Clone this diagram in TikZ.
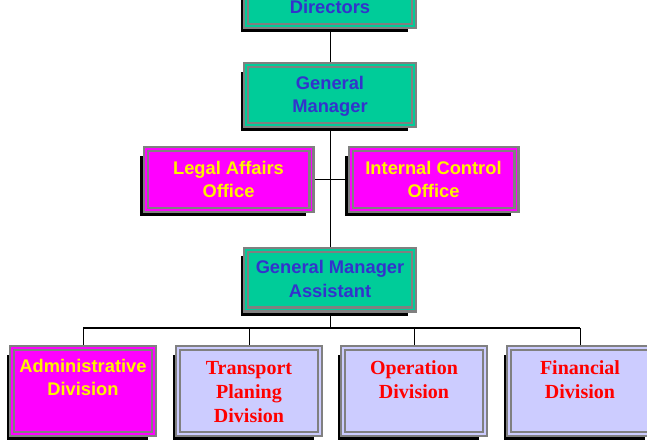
\documentclass[tikz,border=0pt]{standalone}
\usepackage{fontspec}
\setmainfont{Liberation Serif}
\newfontfamily\arialfont{Liberation Sans}
\usetikzlibrary{shadows,backgrounds}

\definecolor{gmgreen}{HTML}{00CC99}
\definecolor{txtblue}{HTML}{3333CC}
\definecolor{offmag}{HTML}{FF00FF}
\definecolor{divlav}{HTML}{CCCCFF}
\definecolor{framegray}{HTML}{808080}

\begin{document}
\begin{tikzpicture}[x=1pt, y=-1pt, semithick,
    box/.style={draw=framegray, line width=2.3pt, double distance=1.7pt,
        outer sep=0pt, inner sep=0pt, align=center,
        drop shadow={shadow xshift=-5.5pt, shadow yshift=-6.5pt, opacity=1, fill=black}},
    sanstxt/.style={font=\arialfont\bfseries\fontsize{18.3}{23.5}\selectfont},
    seriftxt/.style={font=\bfseries\fontsize{20}{24}\selectfont},
    mgr/.style={box, fill=gmgreen, double=gmgreen, text=txtblue, sanstxt,
        minimum width=167.7pt, minimum height=59.7pt, text depth=1pt},
    office/.style={box, fill=offmag, double=offmag, text=yellow, sanstxt,
        minimum width=165.7pt, minimum height=60.7pt},
    div/.style={box, minimum width=141.7pt, minimum height=85.7pt},
    divtxt/.style={anchor=north, inner sep=0pt, yshift=-10.5pt, align=center},
    magdiv/.style={div, fill=offmag, double=offmag},
    lavdiv/.style={div, fill=divlav, double=divlav},
    bus/.style={line width=1.8pt},
    link/.style={line width=1pt}]
    \useasboundingbox (0,0) rectangle (647,442);

    \node[mgr] (dir) at (330,-4) {Board of\\Directors};
    \node[mgr] (gm) at (330,95) {General\\Manager};
    \node[office] (legal) at (228.5,179.5) {Legal Affairs\\Office};
    \node[office] (internal) at (433.5,179.5) {Internal Control\\Office};
    \node[mgr] (gma) at (330,279.5) {General Manager\\Assistant};

    \node[magdiv, label={[divtxt, sanstxt, text=yellow]north:Administrative\\Division}] (adm) at (83,391) {};
    \node[lavdiv, label={[divtxt, seriftxt, yshift=-2pt, text=red]north:Transport\\Planing\\Division}] (tpd) at (249,391) {};
    \node[lavdiv, label={[divtxt, seriftxt, yshift=-2pt, text=red]north:Operation\\Division}] (opd) at (414,391) {};
    \node[lavdiv, label={[divtxt, seriftxt, yshift=-2pt, text=red]north:Financial\\Division}] (fin) at (580,391) {};

    \begin{scope}[on background layer]
        \draw[link] (dir) -- (gm);
        \draw[link] (gm) -- (gma);
        \draw[link] (legal) -- (internal);
        \coordinate (hub) at (330,328);
        \draw[link] (gma) -- (hub);
        \draw[bus] (hub -| adm) -- (hub -| fin);
        \foreach \n in {adm,tpd,opd,fin}
            \draw[link] (hub -| \n) -- (\n);
    \end{scope}
\end{tikzpicture}
\end{document}
